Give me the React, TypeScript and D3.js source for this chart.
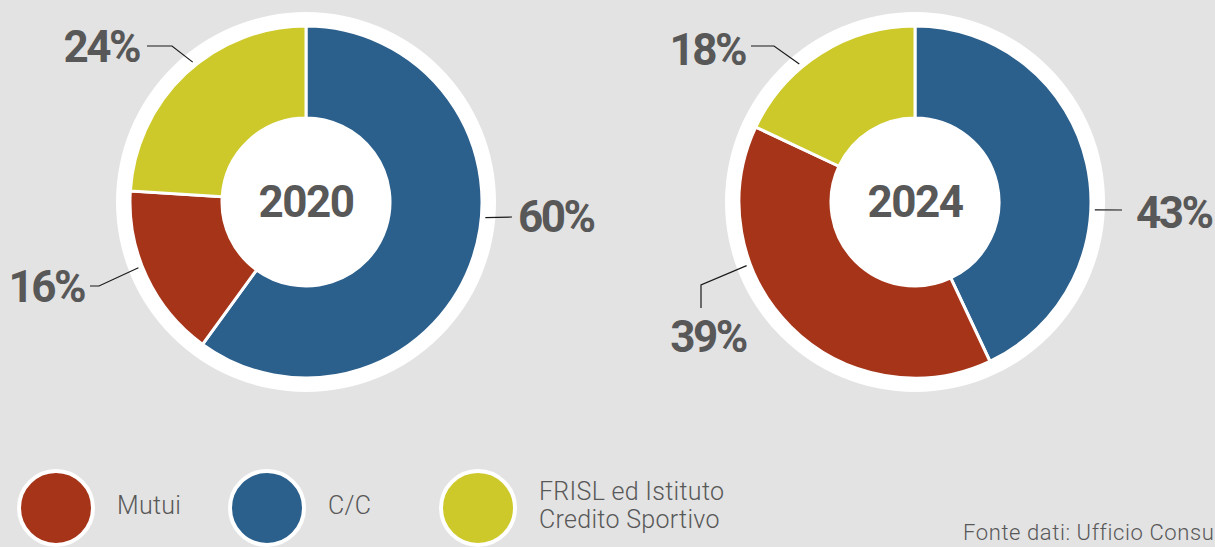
import React from "react";
import * as d3 from "d3";

// categories in legend order
const categories = ["Mutui", "C/C", "FRISL ed Istituto Credito Sportivo"];
const legendLines = [["Mutui"], ["C/C"], ["FRISL ed Istituto", "Credito Sportivo"]];
const colors = ["#a63419", "#2b5f8c", "#cdc92b"];

const years = ["2020", "2024"];
const values2020 = [16, 60, 24];
const values2024 = [39, 43, 18];
// slices drawn clockwise from 12 o'clock: C/C, Mutui, FRISL
const sliceOrder = [1, 0, 2];

const source = "Fonte dati: Ufficio Consu";

const W = 1215;
const H = 547;
const bg = "#e3e3e3";
const textColor = "#585858";

// label leader layout (relative to donut centre), per category index
type LabelLayout = {
  angle: number;
  elbow: [number, number];
  end: [number, number];
  text: [number, number];
  anchor: "start" | "end" | "middle";
};
const layout2020: LabelLayout[] = [
  { angle: 248.6, elbow: [-207, 84], end: [-216, 84], text: [-222, 100], anchor: "end" },
  { angle: 95, elbow: [206, 15], end: [206, 15], text: [212, 30], anchor: "start" },
  { angle: 321, elbow: [-134, -156], end: [-159, -156], text: [-167, -140], anchor: "end" },
];
const layout2024: LabelLayout[] = [
  { angle: 249.3, elbow: [-214, 83], end: [-214, 106], text: [-207, 150], anchor: "middle" },
  { angle: 92.5, elbow: [207, 8], end: [207, 8], text: [221, 26], anchor: "start" },
  { angle: 320, elbow: [-141, -156], end: [-164, -156], text: [-170, -137], anchor: "end" },
];

const centers: [number, number][] = [
  [306, 202],
  [915, 202],
];

const ringR = 190;
const outerR = 176;
const innerR = 84;
const leaderR = 180;
const labelFont = "Roboto, 'Noto Sans', sans-serif";

function Donut({
  values,
  year,
  cx,
  cy,
  labels,
}: {
  values: number[];
  year: string;
  cx: number;
  cy: number;
  labels: LabelLayout[];
}) {
  const pie = d3
    .pie<number>()
    .sort(null)
    .value((i) => values[i]);
  const arcs = pie(sliceOrder);
  const arc = d3
    .arc<d3.PieArcDatum<number>>()
    .innerRadius(innerR)
    .outerRadius(outerR);

  return (
    <g transform={`translate(${cx},${cy})`}>
      <circle r={ringR} fill="#fff" />
      {arcs.map((a) => (
        <path
          key={a.data}
          d={arc(a) || ""}
          fill={colors[a.data]}
          stroke="#fff"
          strokeWidth={3}
        />
      ))}
      <circle r={innerR - 1} fill="#fff" />
      <text
        y={-1}
        dy="0.36em"
        textAnchor="middle"
        fontFamily={labelFont}
        fontWeight={700}
        fontSize={44}
        letterSpacing={-1.5}
        fill={textColor}
      >
        {year}
      </text>
      {labels.map((l, i) => {
        const t = (l.angle * Math.PI) / 180;
        const sx = leaderR * Math.sin(t);
        const sy = -leaderR * Math.cos(t);
        const pts: [number, number][] = [[sx, sy], l.elbow, l.end];
        return (
          <g key={i}>
            <path
              d={d3.line()(pts) || ""}
              fill="none"
              stroke="#1a1a1a"
              strokeWidth={1.2}
            />
            <text
              x={l.text[0]}
              y={l.text[1]}
              textAnchor={l.anchor}
              fontFamily={labelFont}
              fontWeight={700}
              fontSize={44}
              letterSpacing={-2.5}
              fill={textColor}
            >
              {values[i]}%
            </text>
          </g>
        );
      })}
    </g>
  );
}

export default function App() {
  const legendX = d3.scalePoint<number>().domain([0, 1, 2]).range([56, 478]);

  return (
    <svg
      width={W}
      height={H}
      style={{ position: "absolute", left: 0, top: 0, background: bg }}
    >
      <rect width={W} height={H} fill={bg} />
      <Donut
        values={values2020}
        year={years[0]}
        cx={centers[0][0]}
        cy={centers[0][1]}
        labels={layout2020}
      />
      <Donut
        values={values2024}
        year={years[1]}
        cx={centers[1][0]}
        cy={centers[1][1]}
        labels={layout2024}
      />

      {categories.map((c, i) => {
        const x = legendX(i) || 0;
        const lines = legendLines[i];
        return (
          <g key={c}>
            <circle cx={x} cy={508} r={37} fill={colors[i]} stroke="#fff" strokeWidth={4} />
            {lines.map((ln, j) => (
              <text
                key={j}
                x={x + 61}
                y={lines.length === 1 ? 514 : 500 + j * 28}
                fontFamily={labelFont}
                fontWeight={300}
                fontSize={25}
                letterSpacing={0.3}
                fill={textColor}
              >
                {ln}
              </text>
            ))}
          </g>
        );
      })}

      <text
        x={963}
        y={540}
        fontFamily={labelFont}
        fontWeight={300}
        fontSize={22}
        letterSpacing={0.6}
        fill={textColor}
      >
        {source}
      </text>
    </svg>
  );
}
